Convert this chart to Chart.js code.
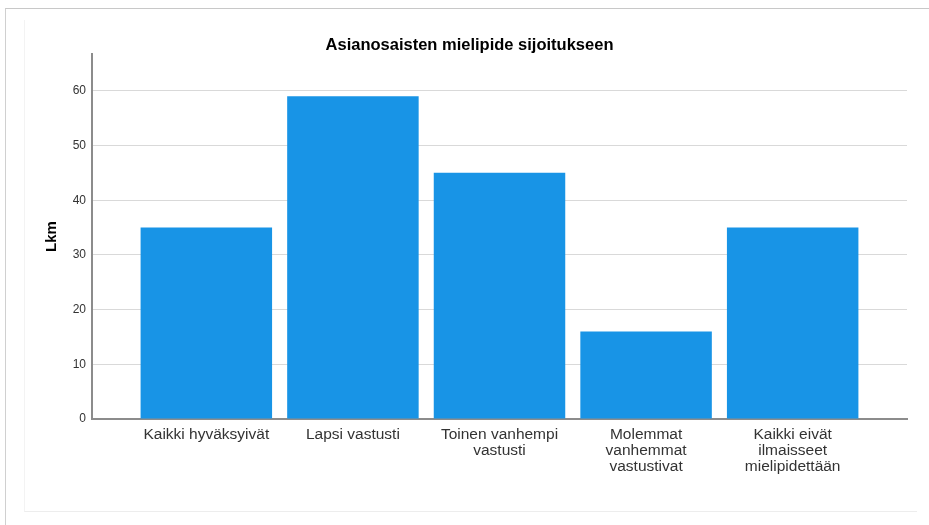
<!DOCTYPE html>
<html>
<head>
<meta charset="utf-8">
<script src="https://cdn.jsdelivr.net/npm/chart.js@4"></script>
<style>
  body { margin: 0; background: #fff; overflow: hidden; }
  .frame { position: absolute; left: 5px; top: 8px; right: 0; bottom: 0;
           border-top: 1px solid #c8c8c8; border-left: 1px solid #d0d0d0; }
  .panel { position: absolute; left: 24px; top: 20px; width: 892px; height: 491px;
           border-left: 1px solid #f3f3f3; border-bottom: 1px solid #ededed; }
  canvas { position: absolute; left: 0; top: 0; }
</style>
</head>
<body>
<div class="frame"></div>
<div class="panel"></div>
<canvas id="myChart" width="929" height="525"></canvas>
<script>
var categories = [
  "Kaikki hyväksyivät",
  "Lapsi vastusti",
  ["Toinen vanhempi", "vastusti"],
  ["Molemmat", "vanhemmat", "vastustivat"],
  ["Kaikki eivät", "ilmaisseet", "mielipidettään"]
];
var counts = [35, 59, 45, 16, 35];
var yTicks = [0, 10, 20, 30, 40, 50, 60];

const points = counts.map((v, i) => ({ x: i, y: v }));

const data = {
  datasets: [
    {
      data: points,
      backgroundColor: "rgb(24, 148, 230)",
      borderWidth: 0,
      categoryPercentage: 1,
      barPercentage: 0.897,
    },
  ],
};

const config = {
  type: "bar",
  data: data,
  options: {
    responsive: false,
    animation: false,
    layout: { padding: { left: 32, right: 22, top: 0, bottom: 0 } },
    plugins: {
      legend: { display: false },
      tooltip: { enabled: false },
      title: {
        display: true,
        text: "Asianosaisten mielipide sijoitukseen",
        color: "#000",
        font: { family: "Arial, 'Liberation Sans'", size: 16.5, weight: "bold", lineHeight: 1.1 },
        padding: { top: 36, bottom: 0 },
      },
    },
    scales: {
      x: {
        type: "linear",
        min: -0.78,
        max: 4.78,
        offset: false,
        afterBuildTicks: (scale) => {
          scale.ticks = categories.map((c, i) => ({ value: i }));
        },
        afterFit: (scale) => { scale.height = 106; },
        grid: { display: true, color: "transparent", drawTicks: false, offset: false },
        border: { display: true, color: "#8c8c8c", width: 2 },
        ticks: {
          autoSkip: false,
          maxRotation: 0,
          padding: 8,
          color: "#333",
          font: { family: "Arial, 'Liberation Sans'", size: 15.5, lineHeight: 1.02 },
          callback: (v) => categories[v],
        },
      },
      y: {
        min: 0,
        max: 66.7,
        afterBuildTicks: (scale) => {
          scale.ticks = yTicks.map((v) => ({ value: v }));
        },
        afterFit: (scale) => { scale.width = 60; },
        grid: { color: "#d9d9d9", drawTicks: false },
        border: { color: "#8c8c8c", width: 2 },
        ticks: {
          padding: 6,
          color: "#333",
          font: { family: "Arial, 'Liberation Sans'", size: 12 },
        },
        title: {
          display: true,
          text: "Lkm",
          color: "#000",
          font: { family: "Arial, 'Liberation Sans'", size: 15, weight: "bold" },
          padding: { top: 11, bottom: 0 },
        },
      },
    },
  },
};

const barChart = new Chart(document.getElementById("myChart"), config);
</script>
</body>
</html>
